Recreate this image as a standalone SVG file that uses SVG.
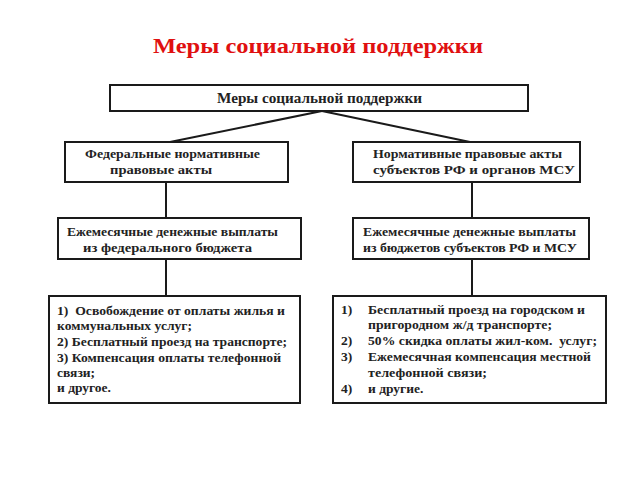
<svg xmlns="http://www.w3.org/2000/svg" width="640" height="480" viewBox="0 0 640 480">
<style>
.box{fill:#fff;stroke:#1a1a1a;stroke-width:2}
.t{font-family:'Liberation Serif',serif;font-weight:bold;font-size:13.5px;fill:#222}
.con{stroke:#1a1a1a;stroke-width:2;fill:none}
</style>
<rect width="640" height="480" fill="#fff"/>
<text x="153" y="53" style="font-family:'Liberation Serif',serif;font-weight:bold;font-size:20px;fill:#e01010" textLength="330" lengthAdjust="spacingAndGlyphs">Меры социальной поддержки</text>
<g id="connectors">
<line class="con" x1="322" y1="111" x2="170" y2="142"/>
<line class="con" x1="322" y1="111" x2="470" y2="142"/>
<line class="con" x1="166" y1="182" x2="166" y2="218"/>
<line class="con" x1="166" y1="259" x2="166" y2="296"/>
<line class="con" x1="472" y1="182" x2="472" y2="218"/>
<line class="con" x1="472" y1="259" x2="472" y2="296"/>
</g>
<g id="top">
<rect class="box" x="110" y="85" width="418" height="26"/>
<text class="t" x="217" y="103" style="font-size:14.5px" textLength="205" lengthAdjust="spacingAndGlyphs">Меры социальной поддержки</text>
</g>
<g id="fed-acts">
<rect class="box" x="65" y="142" width="223" height="40"/>
<text class="t" x="85" y="158" textLength="175" lengthAdjust="spacingAndGlyphs">Федеральные нормативные</text>
<text class="t" x="110" y="174" textLength="102" lengthAdjust="spacingAndGlyphs">правовые акты</text>
</g>
<g id="reg-acts">
<rect class="box" x="353" y="142" width="227" height="40"/>
<text class="t" x="373" y="158" textLength="189" lengthAdjust="spacingAndGlyphs">Нормативные правовые акты</text>
<text class="t" x="373" y="174" textLength="202" lengthAdjust="spacingAndGlyphs">субъектов РФ и органов МСУ</text>
</g>
<g id="fed-pay">
<rect class="box" x="58" y="218" width="243" height="41"/>
<text class="t" x="67" y="236" textLength="211" lengthAdjust="spacingAndGlyphs">Ежемесячные денежные выплаты</text>
<text class="t" x="83" y="252" textLength="169" lengthAdjust="spacingAndGlyphs">из федерального бюджета</text>
</g>
<g id="reg-pay">
<rect class="box" x="353" y="218" width="236" height="41"/>
<text class="t" x="363" y="236" textLength="213" lengthAdjust="spacingAndGlyphs">Ежемесячные денежные выплаты</text>
<text class="t" x="363" y="252" textLength="214" lengthAdjust="spacingAndGlyphs">из бюджетов субъектов РФ и МСУ</text>
</g>
<g id="fed-list">
<rect class="box" x="49" y="296" width="251" height="107"/>
<text class="t" x="57" y="315" xml:space="preserve" textLength="228" lengthAdjust="spacingAndGlyphs">1)  Освобождение от оплаты жилья и</text>
<text class="t" x="57" y="330" textLength="135" lengthAdjust="spacingAndGlyphs">коммунальных услуг;</text>
<text class="t" x="57" y="346" textLength="230" lengthAdjust="spacingAndGlyphs">2) Бесплатный проезд на транспорте;</text>
<text class="t" x="57" y="362" textLength="224" lengthAdjust="spacingAndGlyphs">3) Компенсация оплаты телефонной</text>
<text class="t" x="57" y="377">связи;</text>
<text class="t" x="57" y="392">и другое.</text>
</g>
<g id="reg-list">
<rect class="box" x="333" y="296" width="273" height="107"/>
<text class="t" x="341" y="314">1)</text>
<text class="t" x="368" y="314" textLength="217" lengthAdjust="spacingAndGlyphs">Бесплатный проезд на городском и</text>
<text class="t" x="368" y="329" textLength="184" lengthAdjust="spacingAndGlyphs">пригородном ж/д транспорте;</text>
<text class="t" x="341" y="345">2)</text>
<text class="t" x="368" y="345" xml:space="preserve" textLength="229" lengthAdjust="spacingAndGlyphs">50% скидка оплаты жил-ком.  услуг;</text>
<text class="t" x="341" y="361">3)</text>
<text class="t" x="368" y="361" textLength="223" lengthAdjust="spacingAndGlyphs">Ежемесячная компенсация местной</text>
<text class="t" x="368" y="377" textLength="119" lengthAdjust="spacingAndGlyphs">телефонной связи;</text>
<text class="t" x="341" y="393">4)</text>
<text class="t" x="368" y="393">и другие.</text>
</g>
</svg>
